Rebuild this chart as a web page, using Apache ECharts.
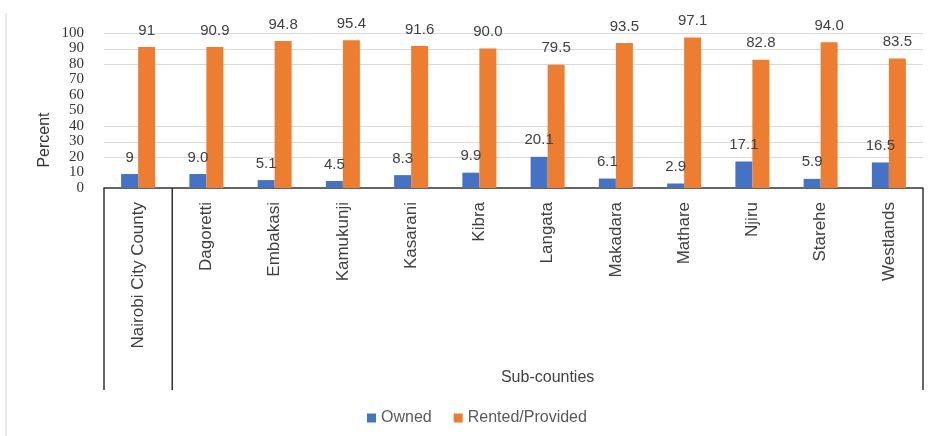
<!DOCTYPE html>
<html>
<head>
<meta charset="utf-8">
<script src="https://cdn.jsdelivr.net/npm/echarts@6/dist/echarts.min.js"></script>
<style>
  html, body { margin: 0; padding: 0; background: #ffffff; }
  #chart { width: 932px; height: 436px; }
</style>
</head>
<body>
<div id="chart"></div>
<script>
// Housing tenure by sub-county, Nairobi City County (percent of households)
const categories = ['Nairobi City County', 'Dagoretti', 'Embakasi', 'Kamukunji', 'Kasarani', 'Kibra',
  'Langata', 'Makadara', 'Mathare', 'Njiru', 'Starehe', 'Westlands'];
const owned = [9, 9.0, 5.1, 4.5, 8.3, 9.9, 20.1, 6.1, 2.9, 17.1, 5.9, 16.5];
const rented = [91, 90.9, 94.8, 95.4, 91.6, 90.0, 79.5, 93.5, 97.1, 82.8, 94.0, 83.5];
const seriesNames = ['Owned', 'Rented/Provided'];
const yTicks = { min: 0, max: 100, step: 10 };
const groupLabel = 'Sub-counties';
const yTitle = 'Percent';

const chart = echarts.init(document.getElementById('chart'));

// county-level figure is printed as an integer, sub-counties with one decimal
const fmt = p => (p.dataIndex === 0 ? String(p.value) : p.value.toFixed(1));
const labelStyle = {
  show: true, position: 'top', distance: 9, formatter: fmt,
  fontFamily: 'Liberation Sans', fontSize: 15, color: '#404040'
};
const hiddenGrid = [10, 50, 60, 70];

chart.setOption({
  animation: false,
  grid: { left: 104, right: 9, top: 33, bottom: 248, containLabel: false },
  legend: {
    data: seriesNames, left: 362, top: 405, icon: 'rect', itemWidth: 9, itemHeight: 9,
    itemGap: 22, textStyle: { fontFamily: 'Liberation Sans', fontSize: 16, color: '#595959' }
  },
  xAxis: {
    type: 'category', data: categories,
    axisLine: { lineStyle: { color: '#333', width: 1.5 } },
    axisTick: { show: false },
    axisLabel: {
      interval: 0, rotate: 90, margin: 14,
      fontFamily: 'Liberation Sans', fontSize: 17, color: '#404040'
    }
  },
  yAxis: {
    type: 'value', min: yTicks.min, max: yTicks.max, interval: yTicks.step,
    axisLine: { show: false }, axisTick: { show: false },
    axisLabel: { margin: 20, fontFamily: 'Liberation Serif', fontSize: 15, color: '#333' },
    splitLine: { show: false }
  },
  series: [
    { name: seriesNames[0], type: 'bar', data: owned, barWidth: 17, barGap: '0%',
      itemStyle: { color: '#4472C4' }, label: labelStyle },
    { name: seriesNames[1], type: 'bar', data: rented, barWidth: 17, barGap: '0%',
      itemStyle: { color: '#ED7D31' }, label: labelStyle }
  ]
});

// gridlines, group separators and group caption placed from the axis scales
function decorate() {
  const px = c => chart.convertToPixel({ xAxisIndex: 0 }, c);
  const py = v => chart.convertToPixel({ yAxisIndex: 0 }, v);
  const c0 = px(categories[0]);
  const band = px(categories[1]) - c0;
  const left = c0 - band / 2;
  const sep = c0 + band / 2;
  const right = px(categories[categories.length - 1]) + band / 2;
  const base = py(0);
  const bottom = base + 202;
  const els = [];
  for (let v = yTicks.min + yTicks.step; v <= yTicks.max; v += yTicks.step) {
    if (hiddenGrid.includes(v)) continue;
    const y = Math.round(py(v)) + 0.5;
    els.push({ type: 'line', z: -1, shape: { x1: left, y1: y, x2: right, y2: y },
      style: { stroke: '#d9d9d9', lineWidth: 1 } });
  }
  [left, sep, right].forEach(x => {
    els.push({ type: 'line', shape: { x1: x, y1: base, x2: x, y2: bottom },
      style: { stroke: '#333', lineWidth: 1.5 } });
  });
  els.push({ type: 'text', x: (sep + right) / 2, y: 378,
    style: { text: groupLabel, align: 'center', verticalAlign: 'middle',
      font: '16px "Liberation Sans"', fill: '#404040' } });
  els.push({ type: 'text', x: 45, y: 140, rotation: Math.PI / 2,
    style: { text: yTitle, align: 'center', verticalAlign: 'middle',
      font: '16px "Liberation Sans"', fill: '#333' } });
  els.push({ type: 'line', shape: { x1: 6, y1: 13, x2: 6, y2: 436 },
    style: { stroke: '#e0e0e0', lineWidth: 1.5 } });
  chart.setOption({ graphic: els });
}
decorate();
</script>
</body>
</html>
